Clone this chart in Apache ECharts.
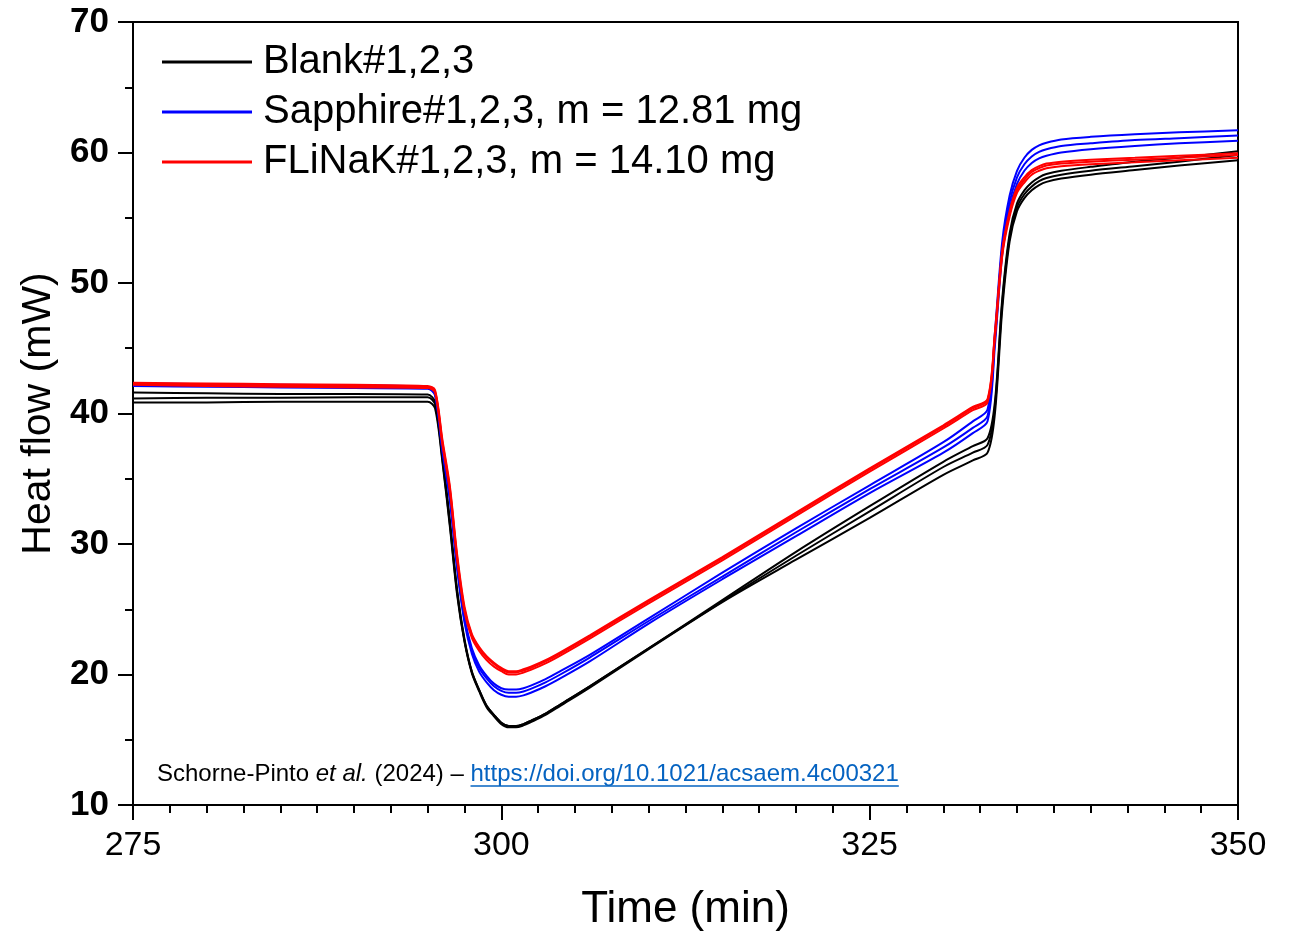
<!DOCTYPE html>
<html>
<head>
<meta charset="utf-8">
<script src="https://cdn.jsdelivr.net/npm/echarts@6/dist/echarts.min.js"></script>
<style>html,body{margin:0;padding:0;background:#fff}#c{width:1289px;height:933px}</style>
</head>
<body>
<div id="c"></div>
<script>
// Time (min)
var time = [275, 280, 285, 290, 295, 295.5, 296, 296.5, 297, 297.5, 298, 298.5, 299, 299.5, 300, 300.5, 301, 301.5, 302, 303, 304, 306, 310, 315, 320, 325, 330, 332, 333, 333.5, 334, 334.5, 335, 335.5, 336, 336.5, 337, 338, 340, 343, 346, 350];

// Heat flow (mW)
var blank1 = [41.6, 41.55, 41.5, 41.5, 41.45, 40.9, 36.8, 31.9, 26.5, 22.7, 20.2, 18.8, 17.6, 16.9, 16.3, 16.05, 16.05, 16.2, 16.45, 17.0, 17.7, 19.1, 22.0, 25.7, 29.4, 32.9, 36.3, 37.5, 38.1, 40.9, 48.8, 53.8, 56.1, 57.1, 57.7, 58.1, 58.35, 58.6, 58.9, 59.3, 59.6, 60.1];
var blank2 = [41.15, 41.2, 41.2, 41.25, 41.25, 40.7, 36.5, 31.6, 26.3, 22.6, 20.2, 18.8, 17.6, 16.9, 16.3, 16.05, 16.05, 16.2, 16.45, 17.0, 17.7, 19.1, 22.0, 25.6, 29.1, 32.5, 35.9, 37.0, 37.6, 40.5, 48.5, 53.5, 55.8, 56.8, 57.4, 57.8, 58.05, 58.3, 58.6, 58.95, 59.3, 59.8];
var blank3 = [40.85, 40.85, 40.9, 40.9, 40.9, 40.4, 36.3, 31.4, 26.1, 22.5, 20.1, 18.7, 17.5, 16.8, 16.2, 15.95, 15.95, 16.1, 16.35, 16.9, 17.6, 19.0, 21.95, 25.55, 28.8, 32.0, 35.3, 36.4, 37.0, 40.0, 48.0, 53.2, 55.5, 56.5, 57.1, 57.5, 57.75, 58.0, 58.3, 58.65, 59.0, 59.4];

var sapphire1 = [42.3, 42.25, 42.2, 42.15, 42.05, 41.6, 37.5, 33.8, 28.5, 24.4, 22.0, 20.7, 19.9, 19.3, 18.95, 18.85, 18.85, 18.95, 19.15, 19.65, 20.25, 21.5, 24.3, 27.8, 31.2, 34.5, 37.8, 39.4, 40.3, 46.2, 53.2, 56.7, 58.6, 59.6, 60.2, 60.55, 60.75, 61.0, 61.2, 61.4, 61.55, 61.7];
var sapphire2 = [42.2, 42.15, 42.1, 42.05, 41.95, 41.5, 37.3, 33.6, 28.3, 24.2, 21.8, 20.5, 19.7, 19.1, 18.75, 18.6, 18.6, 18.7, 18.9, 19.4, 20.0, 21.3, 24.1, 27.5, 30.9, 34.2, 37.4, 38.9, 39.8, 45.7, 52.7, 56.2, 58.1, 59.1, 59.7, 60.05, 60.25, 60.5, 60.7, 60.95, 61.1, 61.3];
var sapphire3 = [42.1, 42.05, 42.0, 41.95, 41.9, 41.4, 37.1, 33.4, 28.1, 24.0, 21.6, 20.2, 19.4, 18.8, 18.45, 18.3, 18.3, 18.4, 18.6, 19.1, 19.7, 21.0, 23.9, 27.3, 30.6, 33.9, 37.0, 38.5, 39.4, 45.2, 52.2, 55.7, 57.6, 58.6, 59.2, 59.55, 59.75, 60.0, 60.25, 60.5, 60.7, 60.9];

var flinak1 = [42.35, 42.3, 42.25, 42.2, 42.1, 41.8, 38.0, 34.5, 29.2, 25.2, 23.1, 22.1, 21.4, 20.9, 20.5, 20.25, 20.25, 20.4, 20.6, 21.1, 21.7, 23.0, 25.7, 29.0, 32.4, 35.8, 39.1, 40.5, 41.1, 46.2, 52.5, 55.5, 57.3, 58.1, 58.65, 58.95, 59.15, 59.3, 59.45, 59.6, 59.75, 59.95];
var flinak2 = [42.3, 42.2, 42.15, 42.1, 42.0, 41.7, 37.8, 34.3, 29.0, 25.0, 23.0, 22.0, 21.3, 20.8, 20.4, 20.15, 20.15, 20.3, 20.5, 21.0, 21.6, 22.9, 25.6, 28.9, 32.3, 35.7, 39.0, 40.4, 41.0, 46.0, 52.3, 55.3, 57.1, 57.9, 58.5, 58.8, 59.0, 59.15, 59.3, 59.45, 59.6, 59.8];
var flinak3 = [42.2, 42.1, 42.05, 42.0, 41.95, 41.6, 37.6, 34.1, 28.8, 24.8, 22.8, 21.8, 21.1, 20.6, 20.25, 20.0, 20.0, 20.15, 20.35, 20.85, 21.45, 22.75, 25.45, 28.75, 32.15, 35.55, 38.85, 40.25, 40.85, 45.8, 52.1, 55.1, 56.9, 57.7, 58.3, 58.6, 58.8, 58.95, 59.1, 59.25, 59.4, 59.6];

var xTicks = [275, 300, 325, 350];
var yTicks = [10, 20, 30, 40, 50, 60, 70];

var legendNames = ['Blank#1,2,3', 'Sapphire#1,2,3, m = 12.81 mg', 'FLiNaK#1,2,3, m = 14.10 mg'];
var groupColors = ['#000000', '#0000ff', '#ff0000'];

var FONT = 'Liberation Sans, Arial, sans-serif';

function pairs(vals) {
  return time.map(function (t, i) { return [t, vals[i]]; });
}

var groups = [[blank1, blank2, blank3], [sapphire1, sapphire2, sapphire3], [flinak1, flinak2, flinak3]];
var series = [];
groups.forEach(function (g, gi) {
  g.forEach(function (vals) {
    series.push({
      name: legendNames[gi],
      type: 'line',
      data: pairs(vals),
      showSymbol: false,
      symbol: 'none',
      smooth: 0.3,
      lineStyle: { color: groupColors[gi], width: 2 },
      itemStyle: { color: groupColors[gi] },
      animation: false
    });
  });
});

// measure annotation text for underline placement
var noteSize = 24;
var noteLeft = 157, noteTop = 762;
var part1 = 'Schorne-Pinto ', part2 = 'et al.', part3 = ' (2024) – ', link = 'https://doi.org/10.1021/acsaem.4c00321';
var cv = document.createElement('canvas').getContext('2d');
cv.font = noteSize + 'px ' + FONT;
var w1 = cv.measureText(part1).width + cv.measureText(part3).width;
var wl = cv.measureText(link).width;
cv.font = 'italic ' + noteSize + 'px ' + FONT;
var w2 = cv.measureText(part2).width;
var linkX = noteLeft + w1 + w2;

var chart = echarts.init(document.getElementById('c'), null, { renderer: 'canvas' });
chart.setOption({
  animation: false,
  backgroundColor: '#ffffff',
  grid: { left: 133, right: 51, top: 22, bottom: 128, containLabel: false, outerBoundsMode: 'none', show: true, borderColor: '#000', borderWidth: 2, backgroundColor: 'transparent' },
  legend: {
    orient: 'vertical',
    left: 157,
    top: 37,
    itemWidth: 90,
    itemHeight: 3,
    itemGap: 10,
    icon: 'rect',
    data: legendNames,
    textStyle: { fontFamily: FONT, fontSize: 40, color: '#000', lineHeight: 40, padding: [0, 0, 0, 6] },
    selectedMode: false
  },
  xAxis: {
    type: 'value',
    min: 275, max: 350, interval: 25,
    name: 'Time (min)',
    nameLocation: 'middle',
    nameGap: 83,
    nameTextStyle: { fontFamily: FONT, fontSize: 44, color: '#000' },
    axisLine: { show: true, lineStyle: { color: '#000', width: 2 } },
    axisTick: { show: true, inside: false, length: 15, lineStyle: { color: '#000', width: 2 } },
    minorTick: { show: true, splitNumber: 10, length: 8, lineStyle: { color: '#000', width: 2 } },
    splitLine: { show: false },
    axisLabel: { margin: 24, fontFamily: FONT, fontSize: 34, color: '#000',
      formatter: function (v) { return xTicks.indexOf(v) >= 0 ? String(v) : ''; } }
  },
  yAxis: {
    type: 'value',
    min: 10, max: 70, interval: 10,
    name: 'Heat flow (mW)',
    nameLocation: 'middle',
    nameGap: 73,
    nameTextStyle: { fontFamily: FONT, fontSize: 41, color: '#000' },
    axisLine: { show: true, lineStyle: { color: '#000', width: 2 } },
    axisTick: { show: true, inside: false, length: 15, lineStyle: { color: '#000', width: 2 } },
    minorTick: { show: true, splitNumber: 2, length: 8, lineStyle: { color: '#000', width: 2 } },
    splitLine: { show: false },
    axisLabel: { margin: 24, fontFamily: FONT, fontSize: 35, fontWeight: 'bold', color: '#000',
      formatter: function (v) { return yTicks.indexOf(v) >= 0 ? String(v) : ''; } }
  },
  graphic: [
    {
      type: 'text',
      left: noteLeft,
      top: noteTop,
      style: {
        text: '{a|' + part1 + '}{b|' + part2 + '}{a|' + part3 + '}{c|' + link + '}',
        rich: {
          a: { fontFamily: FONT, fontSize: noteSize, fill: '#000' },
          b: { fontFamily: FONT, fontSize: noteSize, fontStyle: 'italic', fill: '#000' },
          c: { fontFamily: FONT, fontSize: noteSize, fill: '#0563C1' }
        }
      }
    },
    {
      type: 'line',
      shape: { x1: linkX, y1: noteTop + 24, x2: linkX + wl, y2: noteTop + 24 },
      style: { stroke: '#0563C1', lineWidth: 1.5 }
    }
  ],
  series: series
});
</script>
</body>
</html>
